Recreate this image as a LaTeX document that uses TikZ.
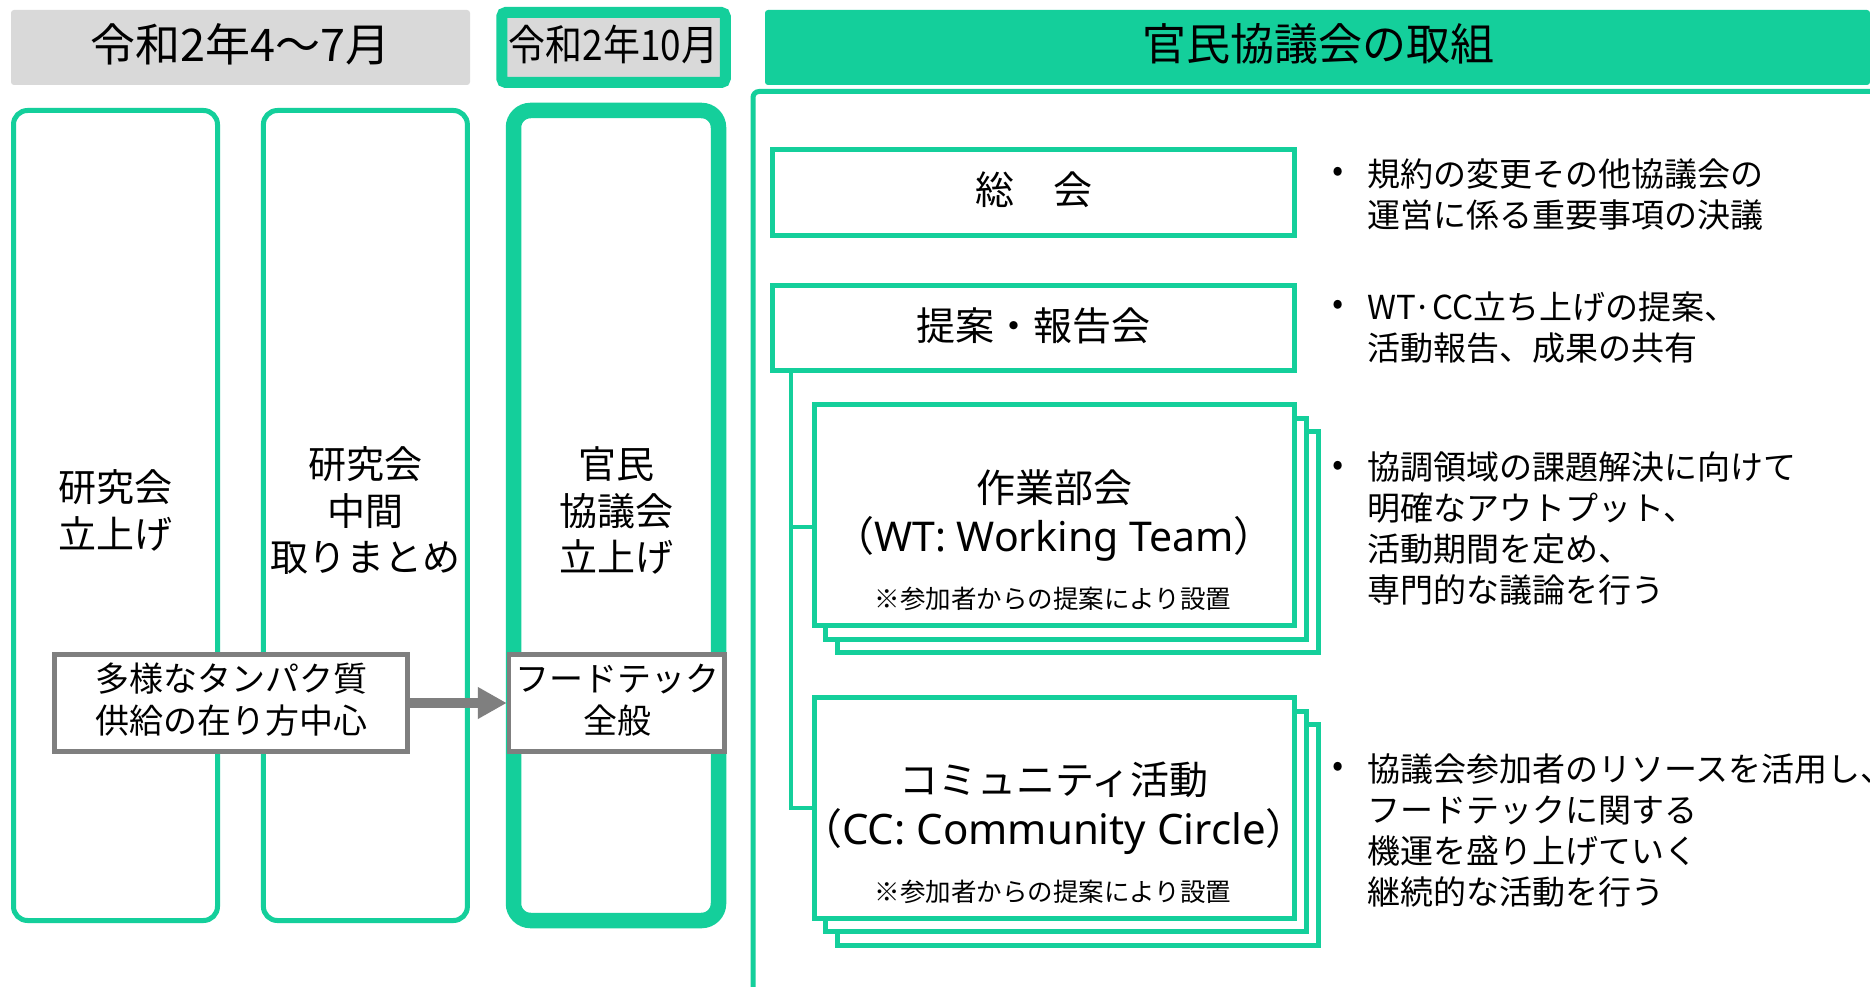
\documentclass[tikz,border=0pt]{standalone}
\usepackage{graphicx}
\usepackage{fontspec}
\setmainfont{Noto Sans CJK JP}
\newfontfamily\lat{Noto Sans}
\usetikzlibrary{arrows.meta}
\definecolor{grn}{RGB}{20,207,155}
\definecolor{hdr}{RGB}{217,217,217}
\definecolor{gbox}{RGB}{127,127,127}
\newcommand{\fs}[2]{\fontsize{#1}{#2}\selectfont}
\tikzset{
  colbox/.style={draw=grn, line width=5pt, rounded corners=14pt,
    minimum width=204pt, minimum height=810pt},
  coltext/.style={align=center, font=\fs{38}{46.3}},
  graybox/.style={draw=gbox, line width=4.5pt, fill=white, minimum height=97pt},
  graytext/.style={align=center, font=\fs{34}{42}},
  orgbox/.style={draw=grn, line width=5pt, fill=white, minimum width=480.5pt},
  conn/.style={draw=grn, line width=4.5pt},
  btext/.style={anchor=west, align=left, font=\fs{33}{41}},
  bdot/.style={font=\fs{33}{41}},
  arr/.style={draw=gbox, line width=10pt, -{Triangle[length=29pt,width=30pt]}},
}
\begin{document}
\begin{tikzpicture}[x=1pt,y=-1pt]
\useasboundingbox (0,0) rectangle (1870,987);
\fill[white] (0,0) rectangle (1870,987);

% headers
\node[fill=hdr, rounded corners=3pt, minimum width=459pt, minimum height=75pt] (h1) at (240.5,47.5) {};
\node[font=\fs{45}{50}] (h1t) at (240.5,44) {令和2年4～7月};
\node[draw=grn, fill=hdr, line width=11pt, rounded corners=4pt, minimum width=223.5pt,
  minimum height=70pt] (h2) at (613.5,47.5) {};
\node[font=\fs{42}{48}] (h2t) at (613.5,44) {\scalebox{0.88}[1]{令和2年10月}};
\node[fill=grn, rounded corners=3pt, minimum width=1105pt, minimum height=75pt] (h3) at (1317.5,47.5) {};
\node[font=\fs{44}{50}] (h3t) at (1318,44) {官民協議会の取組};

% right panel frame
\draw[draw=grn, line width=5pt, rounded corners=6pt] (753,1000) -- (753,91.5) -- (1880,91.5);

% columns
\node[colbox] (c1) at (115.5,515.5) {};
\node[colbox] (c2) at (365.4,515.5) {};
\node[colbox, line width=15.5pt, rounded corners=17pt, minimum width=205pt] (c3) at (616,515.5) {};
\node[coltext] (c1t) at (115.5,510.5) {研究会\\立上げ};
\node[coltext] (c2t) at (365.4,510.5) {研究会\\中間\\取りまとめ};
\node[coltext] (c3t) at (616,510.5) {官民\\協議会\\立上げ};

% gray boxes and arrow
\node[graybox, minimum width=353pt] (ga) at (231,703) {};
\node[graybox, minimum width=215.5pt] (gb) at (616.75,703) {};
\node[graytext] (gat) at (231,700) {多様なタンパク質\\供給の在り方中心};
\node[graytext] (gbt) at (617,700) {フードテック\\全般};
\draw[arr] (ga) -- (gb);

% organisation boxes
\node[orgbox, minimum width=522pt, minimum height=86pt] (soukai) at (1033.5,192.5) {};
\node[font=\fs{39}{46}] (soukait) at (1033.5,190) {総　会};
\node[orgbox, minimum width=522pt, minimum height=85pt] (teian) at (1033.5,328) {};
\node[font=\fs{39}{46}] (teiant) at (1033.5,325.5) {提案・報告会};

\node[orgbox, minimum height=221pt] (wt3) at (1077.75,542) {};
\node[orgbox, minimum height=221pt] (wt2) at (1065.75,528.5) {};
\node[orgbox, minimum height=221pt] (wt) at (1054.25,515) {};
\node[font=\fs{39}{46}] (wtt) at (1054,488) {作業部会};
\node[font=\fs{41}{46}] (wts) at (1054,538.5) {（{\lat WT: Working Team}）};
\node[font=\fs{25.5}{30}] (wtn) at (1053,599) {※参加者からの提案により設置};

\node[orgbox, minimum height=220.5pt] (cc3) at (1077.75,834.75) {};
\node[orgbox, minimum height=220.5pt] (cc2) at (1065.75,821.25) {};
\node[orgbox, minimum height=220.5pt] (cc) at (1054.25,807.75) {};
\node[font=\fs{39}{46}] (cct) at (1054,780) {コミュニティ活動};
\node[font=\fs{42}{46}] (ccs) at (1054,831.5) {（{\lat CC: Community Circle}）};
\node[font=\fs{25.5}{30}] (ccn) at (1053,892) {※参加者からの提案により設置};

% connectors
\coordinate (trunk) at (791,370.5);
\draw[conn] (trunk) |- ([yshift=-12pt]wt.west);
\draw[conn] (trunk) |- (cc.west);

% bullets
\node[bdot] (d1) at (1338,174) {•};
\node[btext] (b1) at (1364,195) {規約の変更その他協議会の\\運営に係る重要事項の決議};
\node[bdot] (d2) at (1338,307) {•};
\node[btext] (b2) at (1364,327.5) {WT·CC立ち上げの提案、\\活動報告、成果の共有};
\node[bdot] (d3) at (1338,468) {•};
\node[btext] (b3) at (1364,529) {協調領域の課題解決に向けて\\明確なアウトプット、\\活動期間を定め、\\専門的な議論を行う};
\node[bdot] (d4) at (1338,769) {•};
\node[btext] (b4) at (1364,830) {協議会参加者のリソースを活用し、\\フードテックに関する\\機運を盛り上げていく\\継続的な活動を行う};
\end{tikzpicture}
\end{document}
